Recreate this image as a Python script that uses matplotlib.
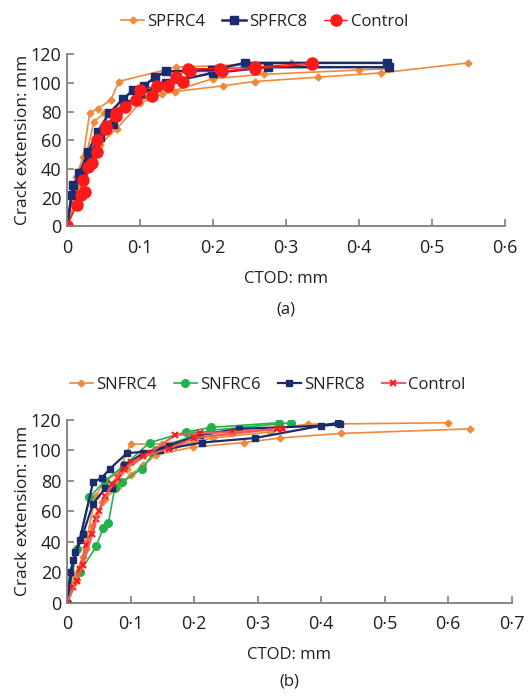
import matplotlib
matplotlib.use('Agg')
import matplotlib.pyplot as plt

plt.rcParams['font.family'] = ['Open Sans', 'DejaVu Sans']

# ---- panel (a) data: CTOD (mm) vs crack extension (mm) ----
spfrc4_1_x = [0, 0.012, 0.022, 0.031, 0.042, 0.060, 0.071, 0.150, 0.307]
spfrc4_1_y = [0, 34, 48, 79, 82, 88, 101, 111, 114]
spfrc4_2_x = [0, 0.015, 0.037, 0.051, 0.080, 0.110, 0.148, 0.214, 0.257, 0.344, 0.430, 0.550]
spfrc4_2_y = [0, 25, 73, 79, 85, 90, 94, 98, 101, 104, 107, 114]
spfrc4_3_x = [0, 0.020, 0.045, 0.068, 0.100, 0.130, 0.200, 0.270, 0.400, 0.440]
spfrc4_3_y = [0, 28, 57, 68, 86, 92, 103, 106, 109, 110]

spfrc8_1_x = [0, 0.007, 0.017, 0.029, 0.042, 0.058, 0.077, 0.091, 0.105, 0.121, 0.135, 0.199, 0.244, 0.438]
spfrc8_1_y = [0, 22, 37, 52, 66, 79, 89, 95, 98, 104, 108, 109, 114, 114]
spfrc8_2_x = [0, 0.008, 0.020, 0.030, 0.045, 0.063, 0.080, 0.100, 0.135, 0.200, 0.276, 0.441]
spfrc8_2_y = [0, 29, 37, 50, 62, 71, 85, 92, 100, 107, 111, 111]

control_a1_x = [0, 0.013, 0.022, 0.034, 0.041, 0.053, 0.067, 0.079, 0.100, 0.123, 0.149, 0.166, 0.210, 0.258, 0.336]
control_a1_y = [0, 15, 32, 44, 60, 70, 79, 83, 95, 98, 104, 110, 110, 111, 114]
control_a2_x = [0, 0.019, 0.025, 0.029, 0.041, 0.053, 0.067, 0.095, 0.116, 0.138, 0.159, 0.168, 0.213, 0.258, 0.336]
control_a2_y = [0, 22, 24, 41, 52, 68, 77, 88, 91, 98, 101, 108, 108, 110, 113]

# ---- panel (b) data ----
snfrc4_1_x = [0, 0.010, 0.020, 0.030, 0.045, 0.060, 0.080, 0.100, 0.120, 0.140, 0.198, 0.278, 0.335, 0.431, 0.635]
snfrc4_1_y = [0, 12, 20, 35, 57, 68, 76, 84, 90, 97, 102, 105, 108, 111, 114]
snfrc4_2_x = [0, 0.015, 0.030, 0.045, 0.060, 0.080, 0.100, 0.150, 0.200, 0.260, 0.379, 0.600]
snfrc4_2_y = [0, 15, 40, 70, 80, 85, 104, 104, 108, 111, 117, 118]
snfrc4_3_x = [0, 0.012, 0.025, 0.040, 0.055, 0.075, 0.095, 0.130, 0.170, 0.230, 0.320]
snfrc4_3_y = [0, 18, 30, 50, 66, 78, 88, 98, 103, 108, 112]

snfrc6_1_x = [0, 0.016, 0.035, 0.060, 0.090, 0.130, 0.188, 0.227, 0.334]
snfrc6_1_y = [0, 35, 69, 80, 90, 105, 112, 115, 118]
snfrc6_2_x = [0, 0.020, 0.046, 0.057, 0.065, 0.075, 0.087, 0.118, 0.140, 0.200, 0.225, 0.353]
snfrc6_2_y = [0, 20, 37, 49, 52, 75, 79, 88, 100, 110, 113, 118]

snfrc8_1_x = [0, 0.005, 0.013, 0.020, 0.041, 0.055, 0.068, 0.094, 0.146, 0.212, 0.296, 0.426]
snfrc8_1_y = [0, 20, 33, 41, 79, 82, 88, 98, 100, 105, 108, 118]
snfrc8_2_x = [0, 0.010, 0.025, 0.041, 0.060, 0.070, 0.090, 0.120, 0.160, 0.210, 0.270, 0.400, 0.430]
snfrc8_2_y = [0, 28, 45, 65, 75, 75, 90, 98, 103, 110, 114, 116, 117]

control_b1_x = [0, 0.010, 0.020, 0.030, 0.045, 0.060, 0.080, 0.100, 0.130, 0.170, 0.210, 0.260, 0.340]
control_b1_y = [0, 10, 22, 38, 55, 70, 82, 92, 98, 110, 111, 112, 114]
control_b2_x = [0, 0.015, 0.025, 0.040, 0.050, 0.070, 0.090, 0.120, 0.160, 0.200, 0.330]
control_b2_y = [0, 14, 25, 45, 60, 78, 88, 96, 101, 108, 114]

y_ticks = [0, 20, 40, 60, 80, 100, 120]
xa_ticks = [0, 0.1, 0.2, 0.3, 0.4, 0.5, 0.6]
xa_labels = ['0', '0·1', '0·2', '0·3', '0·4', '0·5', '0·6']
xb_ticks = [0, 0.1, 0.2, 0.3, 0.4, 0.5, 0.6, 0.7]
xb_labels = ['0', '0·1', '0·2', '0·3', '0·4', '0·5', '0·6', '0·7']

orange = '#F0893C'
navy = '#1C2B6B'
red = '#FF1A1A'
green = '#22B14C'
axis_grey = '#7F7F7F'
text_col = '#231F20'

fig = plt.figure(figsize=(5.32, 6.96), dpi=100)
ax1 = fig.add_axes([0.126, 0.675, 0.823, 0.247])
ax2 = fig.add_axes([0.126, 0.134, 0.836, 0.263])


def style_axis(ax, xticks, xlabels, letter, letter_y):
    ax.set_ylim(0, 120)
    ax.set_xlim(0, xticks[-1])
    ax.set_yticks(y_ticks)
    ax.set_xticks(xticks)
    ax.set_xticklabels(xlabels)
    for s in ['top', 'right']:
        ax.spines[s].set_visible(False)
    for s in ['left', 'bottom']:
        ax.spines[s].set_color(axis_grey)
        ax.spines[s].set_linewidth(1.3)
    ax.tick_params(direction='in', length=5, width=1.2, color=axis_grey,
                   labelsize=13, labelcolor=text_col)
    ax.tick_params(axis='x', pad=9)
    ax.tick_params(axis='y', pad=4)
    ax.set_ylabel('Crack extension: mm', fontsize=12.5, color=text_col, labelpad=0)
    ax.set_xlabel('CTOD: mm', fontsize=12, color=text_col, labelpad=10)
    ax.text(0.5, letter_y, letter, transform=ax.transAxes, ha='center', va='center',
            fontsize=12, color=text_col)


# panel (a)
kw4 = dict(color=orange, marker='D', markersize=3.5, linewidth=1.2)
ax1.plot(spfrc4_1_x, spfrc4_1_y, label='SPFRC4', **kw4)
ax1.plot(spfrc4_2_x, spfrc4_2_y, **kw4)
ax1.plot(spfrc4_3_x, spfrc4_3_y, **kw4)
kw8 = dict(color=navy, marker='s', markersize=5.5, linewidth=1.8)
ax1.plot(spfrc8_1_x, spfrc8_1_y, label='SPFRC8', **kw8)
ax1.plot(spfrc8_2_x, spfrc8_2_y, **kw8)
kwc = dict(color=red, marker='o', markersize=8, linewidth=1.0,
           markerfacecolor=red, markeredgecolor=red)
ax1.plot(control_a1_x, control_a1_y, label='Control', **kwc)
ax1.plot(control_a2_x, control_a2_y, **kwc)
style_axis(ax1, xa_ticks, xa_labels, '(a)', -0.485)
ax1.legend(loc='center', bbox_to_anchor=(0.497, 0.968), bbox_transform=fig.transFigure,
           ncol=3, frameon=False, fontsize=12, handlelength=1.4, handletextpad=0.2,
           columnspacing=1.0, labelcolor=text_col)

# panel (b)
kw4b = dict(color=orange, marker='D', markersize=3.5, linewidth=1.2)
ax2.plot(snfrc4_1_x, snfrc4_1_y, label='SNFRC4', **kw4b)
ax2.plot(snfrc4_2_x, snfrc4_2_y, **kw4b)
ax2.plot(snfrc4_3_x, snfrc4_3_y, **kw4b)
kw6 = dict(color=green, marker='o', markersize=5.5, linewidth=1.2)
ax2.plot(snfrc6_1_x, snfrc6_1_y, label='SNFRC6', **kw6)
ax2.plot(snfrc6_2_x, snfrc6_2_y, **kw6)
kw8b = dict(color=navy, marker='s', markersize=5, linewidth=1.6)
ax2.plot(snfrc8_1_x, snfrc8_1_y, label='SNFRC8', **kw8b)
ax2.plot(snfrc8_2_x, snfrc8_2_y, **kw8b)
kwcb = dict(color='#F25A5A', marker='x', markersize=5, markeredgewidth=1.5,
            markeredgecolor=red, linewidth=1.5)
ax2.plot(control_b1_x, control_b1_y, label='Control', **kwcb)
ax2.plot(control_b2_x, control_b2_y, **kwcb)
style_axis(ax2, xb_ticks, xb_labels, '(b)', -0.43)
ax2.legend(loc='center', bbox_to_anchor=(0.503, 0.447), bbox_transform=fig.transFigure,
           ncol=4, frameon=False, fontsize=12, handlelength=1.4, handletextpad=0.2,
           columnspacing=1.0, labelcolor=text_col)

plt.savefig('out.png', dpi=100)
